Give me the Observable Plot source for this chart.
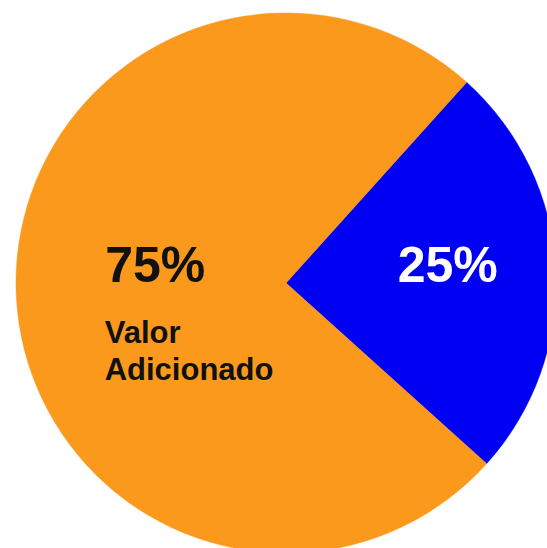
<!DOCTYPE html>
<html>
<head>
<meta charset="utf-8">
<script src="https://cdn.jsdelivr.net/npm/d3@7"></script>
<script src="https://cdn.jsdelivr.net/npm/@observablehq/plot@0.6"></script>
<style>
  html, body { margin: 0; padding: 0; background: #fff; overflow: hidden; }
</style>
</head>
<body>
<div id="chart"></div>
<script>
// ---- data ----
const categories = ["Outros", "Valor Adicionado"];
const values = [25, 75];
const percentLabels = ["25%", "75%"];
const nameLines = [[], ["Valor", "Adicionado"]];
const sliceColors = ["#0000F2", "#FA991C"];
const textColors = ["#FFFFFF", "#111111"];

// ---- layout ----
const W = 547, H = 548;
const cx = 286, cy = 283, R = 270;
const startDeg = 42;
const font = "'Liberation Sans', Arial, Helvetica, sans-serif";

const data = categories.map((c, i) => ({
  category: c, value: values[i], label: percentLabels[i], lines: nameLines[i]
}));

const color = Plot.scale({color: {type: "ordinal", domain: categories, range: sliceColors}});

function pieMark(index, scales, channels, dimensions) {
  const a0 = startDeg * Math.PI / 180;
  const pie = d3.pie().value(d => d.value).sort(null).startAngle(a0).endAngle(a0 + 2 * Math.PI);
  const arcs = pie(data);
  const arc = d3.arc().innerRadius(0).outerRadius(R);
  const g = d3.create("svg:g").attr("transform", `translate(${cx},${cy})`);

  g.selectAll("path.slice").data(arcs).join("path")
    .attr("class", "slice")
    .attr("d", arc)
    .attr("fill", d => color.apply(d.data.category))
    .attr("stroke", d => color.apply(d.data.category))
    .attr("stroke-width", 0.5);

  const labelRadius = [162, 131];
  arcs.forEach(d => {
    const r = labelRadius[d.index];
    const [x] = d3.arc().innerRadius(r).outerRadius(r).centroid(d);
    const baseY = -1;
    g.append("text")
      .attr("x", x).attr("y", baseY)
      .attr("text-anchor", "middle")
      .attr("font-family", font)
      .attr("font-weight", "bold")
      .attr("font-size", 50)
      .attr("fill", textColors[d.index])
      .text(d.data.label);
    if (d.data.lines.length) {
      const left = x - 50.5;
      d.data.lines.forEach((line, j) => {
        g.append("text")
          .attr("x", left).attr("y", baseY + 61 + j * 37)
          .attr("text-anchor", "start")
          .attr("font-family", font)
          .attr("font-weight", "bold")
          .attr("font-size", 31)
          .attr("fill", textColors[d.index])
          .text(line);
      });
    }
  });
  return g.node();
}

const chart = Plot.plot({
  width: W,
  height: H,
  margin: 0,
  style: {background: "#fff"},
  marks: [pieMark]
});
document.getElementById("chart").appendChild(chart);
</script>
</body>
</html>
